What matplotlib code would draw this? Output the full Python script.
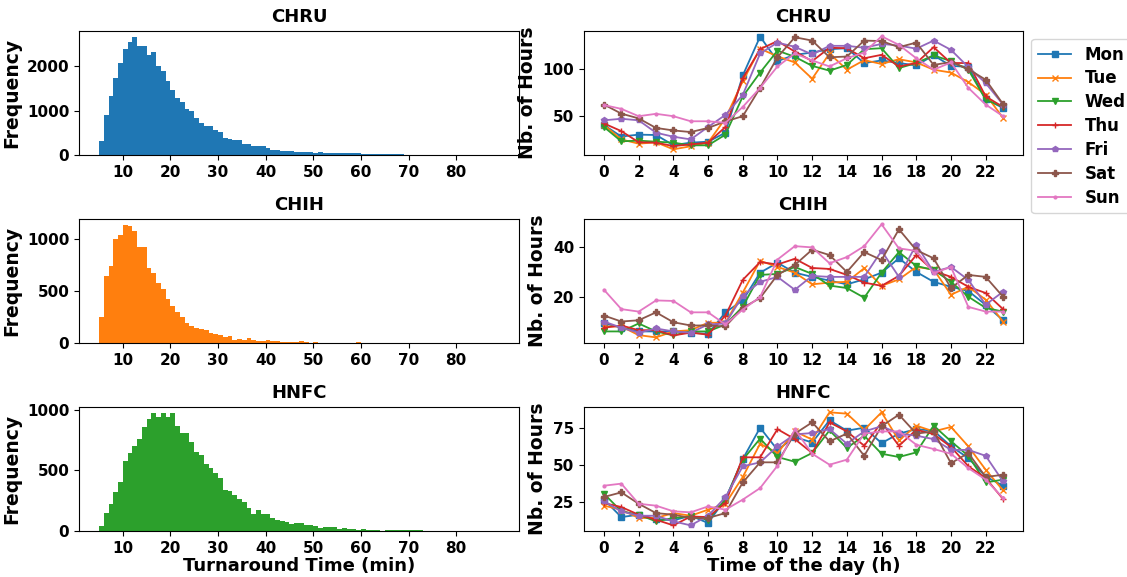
import matplotlib
matplotlib.use("Agg")
import matplotlib.pyplot as plt
import numpy as np

plt.rcParams['font.weight'] = 'bold'
plt.rcParams['axes.titleweight'] = 'bold'
plt.rcParams['axes.labelweight'] = 'bold'

sites = ["CHRU", "CHIH", "HNFC"]
days = ["Mon", "Tue", "Wed", "Thu", "Fri", "Sat", "Sun"]
markers = ["s", "x", "v", "+", "p", "P", "."]
hours = list(range(24))

# turnaround time histograms, 1-min bins from 5 to 89
bin_edges = list(range(5, 90))
chru_counts = [315, 914, 1326, 1730, 2082, 2404, 2562, 2674, 2457, 2457,
               2255, 2315, 2000, 1903, 1678, 1476, 1281, 1199, 1049, 1004,
               824, 727, 652, 652, 562, 517, 382, 360, 337, 337,
               247, 255, 202, 202, 202, 157, 120, 120, 97, 97,
               97, 75, 75, 75, 67, 52, 60, 52, 52, 45,
               45, 45, 37, 45, 37, 30, 30, 30, 22, 22,
               22, 15, 30, 12, 10, 8, 7, 6, 6, 5,
               5, 4, 4, 3, 3, 3, 2, 2, 2, 2,
               1, 1, 1, 1]
chih_counts = [248, 638, 733, 1000, 1038, 1133, 1124, 1076, 914, 914,
               714, 667, 571, 514, 419, 352, 295, 248, 190, 162,
               143, 133, 124, 95, 86, 76, 57, 67, 29, 38,
               29, 48, 29, 19, 19, 29, 19, 19, 10, 10,
               8, 8, 19, 10, 5, 10, 5, 5, 4, 4,
               4, 5, 4, 3, 6, 3, 5, 2, 2, 2,
               2, 1, 2, 1, 1, 1, 1, 1, 1, 1,
               1, 1, 1, 1, 1, 1, 1, 0, 1, 1,
               1, 0, 1, 1]
hnfc_counts = [41, 149, 223, 322, 405, 579, 645, 702, 760, 860,
               926, 975, 942, 975, 942, 975, 868, 810, 810, 736,
               653, 628, 554, 521, 479, 438, 339, 331, 298, 264,
               240, 190, 140, 174, 140, 140, 107, 91, 83, 74,
               58, 66, 66, 50, 50, 41, 25, 33, 33, 33,
               17, 25, 17, 17, 8, 17, 8, 8, 8, 3,
               8, 8, 5, 5, 5, 5, 5, 5, 3, 3,
               4, 4, 4, 0, 0, 0, 0, 0, 0, 0,
               0, 0, 0, 0]

# hourly activity (Nb. of hours) per weekday
chru_hours = {
    "Mon": [41, 29, 31, 30.6, 20, 22.6, 23.6, 33, 93, 133.7, 108, 114.6, 117, 120.5, 121.5, 106, 108.7, 106, 103.5, 114, 103, 102, 68, 59],
    "Tue": [41, 26, 21.5, 23, 15.6, 18.8, 22.6, 48, 87, 121, 113, 106.6, 89.6, 116, 99, 109, 105, 110, 106.6, 99, 96, 86, 73, 48.6],
    "Wed": [39, 24, 24.7, 23.6, 22.6, 19.8, 19.8, 31, 71, 96, 119, 112.5, 103, 98, 104, 120.5, 121.5, 100.7, 106, 114, 108, 99, 67.7, 60],
    "Thu": [42.7, 34.7, 23, 22.6, 19, 20.8, 22.6, 39, 90, 120.5, 129, 118, 108, 122, 121.5, 111, 114.6, 102.4, 106, 122.6, 106, 106, 71, 60],
    "Fri": [46, 47.6, 46, 33, 28.8, 26, 39, 51.7, 72.6, 116, 127.4, 123, 115, 124, 124, 122, 126, 124.3, 121, 129.5, 119.8, 101.7, 85, 62.5],
    "Sat": [62.5, 53, 48, 38, 35.4, 33.7, 38, 44.8, 50.3, 80, 112, 133, 129.5, 112, 112.8, 129.5, 129, 122.6, 127.4, 104, 107, 99.6, 88.5, 63],
    "Sun": [62, 58, 50.3, 52.8, 50.3, 45, 45, 43.4, 60, 80, 102.4, 116, 108.7, 102.4, 111, 117, 134, 125, 111, 99, 106.6, 80, 62.5, 50.3],
}
chih_hours = {
    "Mon": [9.3, 7.5, 6, 6, 6, 5.5, 5, 13.7, 18.5, 29.7, 33.7, 29.7, 28, 26.5, 25, 27, 29.7, 35.5, 30, 26, 24, 22.3, 16.7, 10.5],
    "Tue": [8, 8, 4.5, 3.6, 6, 6.5, 9.5, 9.5, 21.7, 34.5, 32, 29.7, 25, 25.7, 26, 31.5, 24.4, 27, 32, 31, 20.8, 24, 18.8, 10],
    "Wed": [6, 6, 9.2, 6, 4.4, 6, 6, 8.8, 16, 28.8, 29.2, 32, 29.2, 24.5, 23.5, 19.6, 29.7, 38, 32.4, 30.8, 26, 20, 15.5, 14],
    "Thu": [7.5, 8.4, 6.5, 6.5, 4.4, 5.5, 4.7, 12.4, 26.8, 34, 33, 35.3, 31.6, 31.2, 28.8, 25.7, 24.4, 28.4, 36.8, 30.4, 28, 24, 21.5, 15],
    "Fri": [10, 7.5, 5.5, 7.2, 6, 5.5, 8.8, 9.2, 20.4, 26, 28, 22.8, 28.4, 28, 28, 28, 38.5, 28, 41, 30, 32, 26.8, 16.8, 22],
    "Sat": [12.4, 10, 10.5, 13.7, 9.7, 8.4, 8.4, 8, 15.5, 19.5, 28.8, 32.8, 39, 36.8, 30, 38, 34.8, 47.2, 38.8, 35.5, 23.5, 28.8, 28, 20],
    "Sun": [22.8, 15, 14, 18.5, 18.3, 13.7, 13.7, 8.8, 14.8, 19.9, 35, 40.4, 39.9, 33.5, 36, 40.4, 49.2, 39.5, 38.5, 29.5, 32, 15.9, 14, 14],
}
hnfc_hours = {
    "Mon": [26.4, 14.6, 16.2, 13.3, 12.4, 15.5, 10.6, 26.8, 53.8, 75, 60, 68.7, 65, 80, 73, 75, 64.6, 71, 74, 73, 62.4, 54.5, 42, 35.8],
    "Tue": [22.3, 19.6, 14, 14, 17.3, 15.5, 19.6, 23.6, 41.7, 64.2, 57.9, 72.5, 67, 85.4, 84.5, 73.6, 85.4, 66.4, 76.4, 72.5, 75.5, 62.4, 46.6, 32.7],
    "Wed": [30.4, 18.5, 16.2, 11.7, 14, 15, 12.8, 26.4, 53.4, 67.6, 55.2, 52, 57.9, 73.2, 61.3, 69.6, 57.4, 55.2, 58.3, 76.4, 65.8, 56, 38, 39.9],
    "Thu": [24.1, 21.4, 16.2, 12.8, 9, 15, 14.6, 24.1, 55, 55, 74, 67.3, 57.9, 78.6, 72.5, 62.8, 78.6, 62.8, 73.6, 70.7, 62, 49, 41, 26.8],
    "Fri": [25.2, 18.5, 15.5, 15.5, 11.7, 9, 15.5, 28, 48.9, 51.6, 62.4, 70.5, 71.4, 74, 64.2, 72.5, 76, 71, 69.6, 67.3, 60, 60, 56, 38.7],
    "Sat": [28.2, 31.3, 23.6, 17.3, 16.2, 14, 14, 17.3, 38, 51.6, 51.6, 71, 78.6, 65.8, 71, 56, 76, 83.8, 71, 72.5, 51, 57.9, 41.7, 43.2],
    "Sun": [35.8, 37.2, 23.6, 22.3, 18.5, 17.8, 21.8, 19.6, 26.4, 34.2, 49.3, 74, 57.4, 50, 53.4, 71, 72.5, 72.5, 63.5, 60.6, 57.4, 47.7, 39.9, 27.5],
}

hist_data = [chru_counts, chih_counts, hnfc_counts]
hour_data = [chru_hours, chih_hours, hnfc_hours]
hist_colors = ["C0", "C1", "C2"]

fig = plt.figure(figsize=(11.27, 5.77), dpi=100)

row_bottoms = [0.7314, 0.4055, 0.0797]
row_height = 0.2155

bin_centers = np.array(bin_edges[:-1]) + 0.5
for i, site in enumerate(sites):
    # histogram of turnaround times
    ax = fig.add_axes([0.0701, row_bottoms[i], 0.3904, row_height])
    ax.hist(bin_centers, bins=bin_edges, weights=hist_data[i], color=hist_colors[i])
    ax.set_title(site, fontsize=13)
    ax.set_ylabel("Frequency", fontsize=13.5)
    ax.set_xticks(range(10, 90, 10))
    ax.tick_params(labelsize=11)
    if i == 2:
        ax.set_xlabel("Turnaround Time (min)", fontsize=13, labelpad=1)

    # hourly curves per weekday
    ax2 = fig.add_axes([0.5182, row_bottoms[i], 0.3895, row_height])
    for day, m in zip(days, markers):
        ax2.plot(hours, hour_data[i][day], marker=m, markersize=4, linewidth=1.3, label=day)
    ax2.set_title(site, fontsize=13)
    ax2.set_ylabel("Nb. of Hours", fontsize=13.5)
    ax2.set_xticks(range(0, 24, 2))
    ax2.tick_params(labelsize=11)
    if i == 0:
        ax2.legend(loc="upper left", bbox_to_anchor=(1.0, 1.0), fontsize=12,
                   labelspacing=0.35)
    if i == 2:
        ax2.set_xlabel("Time of the day (h)", fontsize=13, labelpad=1)

fig.savefig("out.png", dpi=100)
